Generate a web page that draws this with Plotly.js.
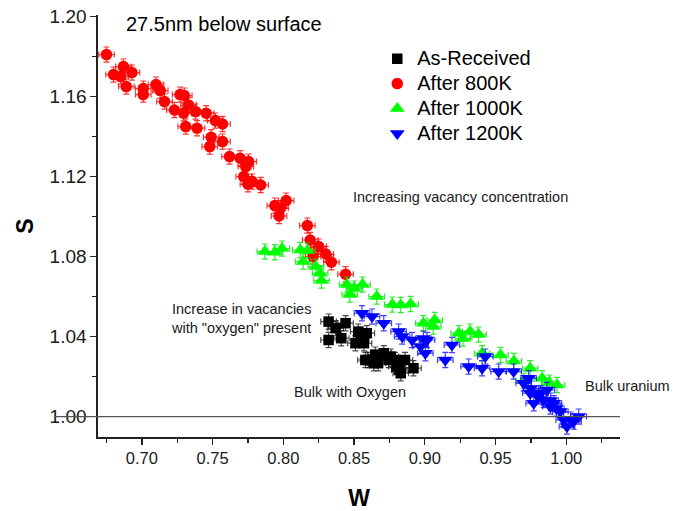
<!DOCTYPE html>
<html><head><meta charset="utf-8">
<script src="https://cdn.plot.ly/plotly-3.0.1.min.js"></script>
<style>html,body{margin:0;padding:0;background:#fff}#chart{width:683px;height:511px}</style>
</head><body><div id="chart"></div>
<script>
const seriesNames = ['As-Received', 'After 800K', 'After 1000K', 'After 1200K'];

const asReceivedW = [0.832,0.832,0.837,0.844,0.841,0.853,0.859,0.851,0.857,0.858,0.865,0.867,0.8745,0.880,0.883,0.886,0.892,0.864,0.871,0.879,0.882,0.860,0.855,0.876];
const asReceivedS = [1.0475,1.0383,1.0442,1.0467,1.0392,1.0425,1.0417,1.0367,1.0367,1.0283,1.031,1.0267,1.0283,1.025,1.0217,1.0283,1.0242,1.0267,1.0317,1.0283,1.0233,1.0283,1.0400,1.0300];

const after800W = [0.675,0.680,0.687,0.685,0.693,0.689,0.701,0.701,0.710,0.713,0.716,0.727,0.730,0.723,0.733,0.738,0.7295,0.731,0.739,0.7455,0.752,0.757,0.749,0.748,0.757,0.762,0.7695,0.7755,0.7735,0.772,0.775,0.778,0.784,0.794,0.797,0.802,0.798,0.817,0.819,0.825,0.830,0.834,0.844,0.821];
const after800S = [1.181,1.171,1.175,1.170,1.172,1.165,1.164,1.161,1.166,1.163,1.1575,1.161,1.1605,1.1533,1.1558,1.1525,1.1517,1.145,1.1442,1.1517,1.148,1.1463,1.1397,1.135,1.1375,1.130,1.1292,1.1275,1.125,1.120,1.1162,1.1175,1.1158,1.1055,1.1003,1.108,1.1042,1.0955,1.0883,1.085,1.0813,1.0772,1.0712,1.080];

const after1000W = [0.787,0.794,0.799,0.812,0.817,0.814,0.823,0.826,0.827,0.845,0.847,0.850,0.856,0.866,0.877,0.883,0.890,0.899,0.906,0.907,0.924,0.932,0.938,0.927,0.9405,0.9535,0.963,0.9745,0.983,0.988,0.9935,0.970];
const after1000S = [1.0825,1.0822,1.084,1.0833,1.083,1.0775,1.075,1.0717,1.068,1.066,1.061,1.064,1.066,1.060,1.056,1.0558,1.0563,1.0467,1.0450,1.0483,1.0417,1.0425,1.041,1.039,1.0317,1.0308,1.0278,1.0242,1.0192,1.017,1.0158,1.0180];

const after1200W = [0.8556,0.8627,0.871,0.8815,0.884,0.891,0.897,0.899,0.9016,0.9004,0.9192,0.9145,0.931,0.9405,0.9428,0.9522,0.9628,0.9699,0.9746,0.977,0.984,0.9888,0.9958,1.0005,1.0052,1.0088,0.9982,0.9912,0.9818,0.9864,0.9734,0.993,1.003,0.980,0.975,0.989];
const after1200S = [1.0517,1.050,1.0467,1.0425,1.040,1.0383,1.035,1.039,1.0383,1.0317,1.0358,1.0283,1.025,1.0242,1.030,1.0225,1.0225,1.0167,1.0117,1.0067,1.0083,1.005,1.0025,0.995,0.9975,1.000,0.9983,1.0067,1.0117,1.0133,1.0192,1.004,0.9985,1.010,1.014,1.008];

const errW = 0.0055;
const errS = 0.0038;

const xTickVals = [0.70,0.75,0.80,0.85,0.90,0.95,1.00];
const yTickVals = [1.00,1.04,1.08,1.12,1.16,1.20];

const FONT = 'Arial, "Liberation Sans", sans-serif';

function mk(name, w, s, color, barColor, symbol, size) {
  return {
    type: 'scatter', mode: 'markers',
    name: '<span style="font-size:20px">' + name + '</span>',
    x: w, y: s,
    marker: {color: color, symbol: symbol, size: size, line: {width: 0}},
    error_x: {type: 'constant', value: errW, color: barColor, thickness: 1.2, width: 3},
    error_y: {type: 'constant', value: errS, color: barColor, thickness: 1.2, width: 3},
    cliponaxis: false
  };
}

const data = [
  mk(seriesNames[0], asReceivedW, asReceivedS, '#000000', 'rgba(40,40,40,0.85)', 'square', 10.5),
  mk(seriesNames[1], after800W, after800S, '#ff0000', 'rgba(255,0,0,0.8)', 'circle', 11.5),
  mk(seriesNames[2], after1000W, after1000S, '#00ff00', 'rgba(0,230,0,0.8)', 'triangle-up', 13),
  mk(seriesNames[3], after1200W, after1200S, '#0000ff', 'rgba(0,0,255,0.75)', 'triangle-down', 13)
];

const layout = {
  width: 683, height: 511,
  margin: {l: 98, r: 63, t: 15, b: 74},
  paper_bgcolor: '#fff', plot_bgcolor: '#fff',
  font: {family: FONT, color: '#1a1a1a'},
  showlegend: true,
  legend: {x: 0.535, y: 0.938, xanchor: 'left', yanchor: 'top', bgcolor: 'rgba(0,0,0,0)',
           font: {family: FONT, size: 16.9, color: '#000'}, tracegroupgap: 0},
  xaxis: {
    range: [0.669, 1.038], tickvals: xTickVals, ticktext: xTickVals.map(v => v.toFixed(2)),
    ticks: 'outside', ticklen: 6, tickwidth: 1.3, tickcolor: '#222',
    minor: {dtick: 0.025, tick0: 0.675, ticks: 'outside', ticklen: 4, tickwidth: 1.3, tickcolor: '#222', showgrid: false},
    showline: true, linecolor: '#222', linewidth: 1.6, showgrid: false, zeroline: false,
    tickfont: {family: FONT, size: 16.5, color: '#1a1a1a'},
    title: {text: '<b>W</b>', font: {family: FONT, size: 23, color: '#000'}, standoff: 27}
  },
  yaxis: {
    range: [0.9898, 1.2008], tickvals: yTickVals, ticktext: yTickVals.map(v => v.toFixed(2)),
    ticks: 'outside', ticklen: 6, tickwidth: 1.3, tickcolor: '#222',
    minor: {dtick: 0.02, tick0: 1.0, ticks: 'outside', ticklen: 4, tickwidth: 1.3, tickcolor: '#222', showgrid: false},
    showline: true, linecolor: '#222', linewidth: 1.6, showgrid: false, zeroline: false,
    tickfont: {family: FONT, size: 19, color: '#1a1a1a'},
    title: {text: '<b>S</b>', font: {family: FONT, size: 23, color: '#000'}, standoff: 9}
  },
  shapes: [{type: 'line', xref: 'paper', yref: 'y', x0: -0.083, x1: 1.0, y0: 1.0, y1: 1.0,
            line: {color: '#555', width: 1.3}, layer: 'above'}],
  annotations: [
    {text: '27.5nm below surface', x: 0.6875, y: 1.1964, xref: 'x', yref: 'y', xanchor: 'left', yanchor: 'middle', showarrow: false, font: {family: FONT, size: 20, color: '#000'}},
    {text: 'Increasing vacancy concentration', x: 0.848, y: 1.1099, xref: 'x', yref: 'y', xanchor: 'left', yanchor: 'middle', showarrow: false, font: {family: FONT, size: 14.5, color: '#1a1a1a'}},
    {text: 'Increase in vacancies<br>with "oxygen" present', x: 0.7195, y: 1.0489, xref: 'x', yref: 'y', xanchor: 'left', yanchor: 'middle', align: 'left', showarrow: false, font: {family: FONT, size: 14.5, color: '#1a1a1a'}},
    {text: 'Bulk with Oxygen', x: 0.8058, y: 1.0122, xref: 'x', yref: 'y', xanchor: 'left', yanchor: 'middle', showarrow: false, font: {family: FONT, size: 14.5, color: '#1a1a1a'}},
    {text: 'Bulk uranium', x: 1.012, y: 1.0154, xref: 'x', yref: 'y', xanchor: 'left', yanchor: 'middle', showarrow: false, font: {family: FONT, size: 14.5, color: '#1a1a1a'}}
  ]
};

Plotly.newPlot('chart', data, layout, {displayModeBar: false, staticPlot: true});
</script>
</body></html>
